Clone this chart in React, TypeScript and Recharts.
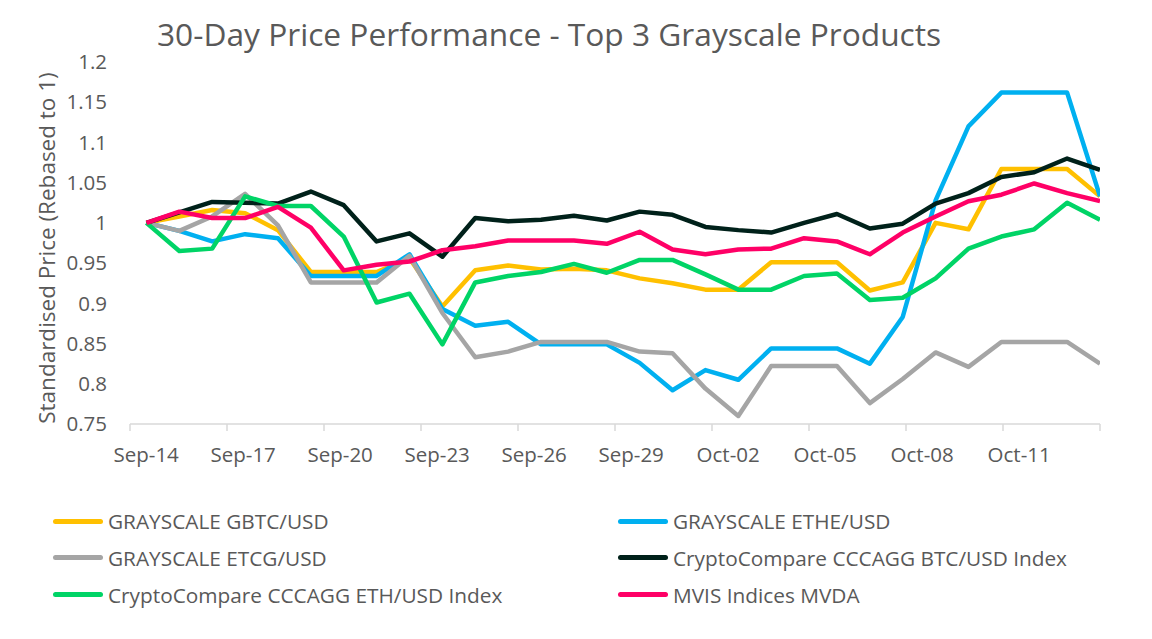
import React from "react";
import { LineChart, Line, XAxis, YAxis } from "recharts";

const dates = [
  "Sep-14", "Sep-15", "Sep-16", "Sep-17", "Sep-18", "Sep-19", "Sep-20", "Sep-21", "Sep-22", "Sep-23",
  "Sep-24", "Sep-25", "Sep-26", "Sep-27", "Sep-28", "Sep-29", "Sep-30", "Oct-01", "Oct-02", "Oct-03",
  "Oct-04", "Oct-05", "Oct-06", "Oct-07", "Oct-08", "Oct-09", "Oct-10", "Oct-11", "Oct-12", "Oct-13",
];

const tickLabels = ["Sep-14", "Sep-17", "Sep-20", "Sep-23", "Sep-26", "Sep-29", "Oct-02", "Oct-05", "Oct-08", "Oct-11"];

const yTicks = [0.75, 0.8, 0.85, 0.9, 0.95, 1, 1.05, 1.1, 1.15, 1.2];

const gbtc = [1.0, 1.008, 1.016, 1.012, 0.991, 0.939, 0.939, 0.939, 0.956, 0.896, 0.941, 0.947, 0.942, 0.943, 0.941, 0.931, 0.925, 0.917, 0.917, 0.951, 0.951, 0.951, 0.916, 0.926, 1.0, 0.992, 1.067, 1.067, 1.067, 1.033];
const ethe = [1.0, 0.99, 0.977, 0.986, 0.981, 0.934, 0.934, 0.934, 0.961, 0.893, 0.872, 0.877, 0.849, 0.849, 0.849, 0.826, 0.792, 0.817, 0.805, 0.844, 0.844, 0.844, 0.825, 0.883, 1.028, 1.12, 1.162, 1.162, 1.162, 1.033];
const etcg = [1.0, 0.99, 1.008, 1.036, 0.997, 0.926, 0.926, 0.926, 0.959, 0.888, 0.833, 0.84, 0.852, 0.852, 0.852, 0.84, 0.838, 0.794, 0.76, 0.822, 0.822, 0.822, 0.776, 0.806, 0.839, 0.821, 0.852, 0.852, 0.852, 0.825];
const btcIndex = [1.0, 1.013, 1.026, 1.025, 1.024, 1.039, 1.022, 0.977, 0.987, 0.958, 1.006, 1.002, 1.004, 1.009, 1.003, 1.014, 1.01, 0.995, 0.991, 0.988, 1.0, 1.011, 0.993, 0.999, 1.024, 1.037, 1.057, 1.063, 1.08, 1.066];
const ethIndex = [1.0, 0.965, 0.968, 1.033, 1.021, 1.021, 0.983, 0.901, 0.912, 0.849, 0.926, 0.934, 0.939, 0.949, 0.938, 0.954, 0.954, 0.936, 0.917, 0.917, 0.934, 0.937, 0.904, 0.907, 0.931, 0.968, 0.983, 0.992, 1.025, 1.004];
const mvda = [1.0, 1.014, 1.006, 1.006, 1.02, 0.994, 0.941, 0.948, 0.952, 0.966, 0.971, 0.978, 0.978, 0.978, 0.974, 0.989, 0.967, 0.961, 0.967, 0.968, 0.981, 0.977, 0.961, 0.988, 1.008, 1.027, 1.035, 1.049, 1.037, 1.027];

const seriesNames = [
  "GRAYSCALE GBTC/USD",
  "GRAYSCALE ETHE/USD",
  "GRAYSCALE ETCG/USD",
  "CryptoCompare CCCAGG BTC/USD Index",
  "CryptoCompare CCCAGG ETH/USD Index",
  "MVIS Indices MVDA",
];
const seriesKeys = ["gbtc", "ethe", "etcg", "btc", "eth", "mvda"];
const seriesColors = ["#FFC000", "#00B0F0", "#A5A5A5", "#00211A", "#00D466", "#FF0066"];

const data = dates.map((d, i) => ({
  idx: i,
  date: d,
  gbtc: gbtc[i],
  ethe: ethe[i],
  etcg: etcg[i],
  btc: btcIndex[i],
  eth: ethIndex[i],
  mvda: mvda[i],
}));

const boundaryTicks = [...tickLabels.map((_, k) => k * 3 - 0.5), dates.length - 0.5];

const W = 1152;
const H = 639;
const PLOT_LEFT = 130;
const PLOT_RIGHT = 1100;
const PLOT_TOP = 62;
const PLOT_BOTTOM = 424;
const Y_AXIS_W = 60;
const X_AXIS_H = 40;
const HALF_CAT = (PLOT_RIGHT - PLOT_LEFT) / dates.length / 2;
const FONT = "'Open Sans', 'Noto Sans', sans-serif";
const TEXT = "#595959";

const XTick = (props: any) => {
  const { x, y, index } = props;
  const label = tickLabels[index];
  if (!label) return null;
  return (
    <text x={x + HALF_CAT} y={y + 29} textAnchor="middle" fill={TEXT} fontSize={20.5} fontFamily={FONT}>
      {label}
    </text>
  );
};

function LegendBlock() {
  return (
    <div style={{ position: "absolute", left: 0, top: 509, width: W, height: 110 }}>
      {seriesNames.map((name, i) => {
        const col = i % 2;
        const row = Math.floor(i / 2);
        return (
          <div
            key={name}
            style={{
              position: "absolute",
              left: col === 0 ? 53 : 618,
              top: row * 36.8,
              height: 24,
              display: "flex",
              alignItems: "center",
              whiteSpace: "nowrap",
            }}
          >
            <span
              style={{
                display: "inline-block",
                width: 50,
                height: 5,
                borderRadius: 3,
                background: seriesColors[i],
                marginRight: 5,
              }}
            />
            <span style={{ fontFamily: FONT, fontSize: 20.8, color: TEXT }}>{name}</span>
          </div>
        );
      })}
    </div>
  );
}

export default function App() {
  return (
    <div style={{ position: "absolute", left: 0, top: 0, width: W, height: H, background: "#fff", overflow: "hidden" }}>
      <div
        style={{
          position: "absolute",
          left: 157,
          top: 12,
          fontFamily: FONT,
          fontSize: 31.7,
          color: TEXT,
          whiteSpace: "nowrap",
          lineHeight: "44px",
        }}
      >
        30-Day Price Performance - Top 3 Grayscale Products
      </div>
      <div
        style={{
          position: "absolute",
          left: 46,
          top: 248,
          transform: "translate(-50%, -50%) rotate(-90deg)",
          fontFamily: FONT,
          fontSize: 22.5,
          color: TEXT,
          whiteSpace: "nowrap",
        }}
      >
        Standardised Price (Rebased to 1)
      </div>
      <LineChart
        width={W}
        height={H}
        data={data}
        margin={{ top: PLOT_TOP, right: W - PLOT_RIGHT, bottom: H - PLOT_BOTTOM - X_AXIS_H, left: PLOT_LEFT - Y_AXIS_W }}
      >
        <XAxis
          xAxisId="labels"
          type="number"
          dataKey="idx"
          domain={[-0.5, dates.length - 0.5]}
          ticks={boundaryTicks}
          interval={0}
          tick={<XTick />}
          tickSize={7}
          tickLine={{ stroke: "#D9D9D9", strokeWidth: 1.5 }}
          axisLine={{ stroke: "#D9D9D9", strokeWidth: 1.5 }}
          height={X_AXIS_H}
          allowDataOverflow
        />
        <XAxis
          xAxisId="data"
          type="number"
          dataKey="idx"
          domain={[-0.5, dates.length - 1]}
          hide
          height={0}
          allowDataOverflow
        />
        <YAxis
          type="number"
          domain={[0.75, 1.2]}
          ticks={yTicks}
          interval={0}
          width={Y_AXIS_W}
          axisLine={false}
          tickLine={false}
          tickSize={0}
          tickMargin={23}
          tick={{ fill: TEXT, fontSize: 20.5, fontFamily: FONT }}
          tickFormatter={(v: number) => String(parseFloat(v.toFixed(2)))}
          allowDataOverflow
        />
        {seriesKeys.map((k, i) => (
          <Line
            key={k}
            xAxisId="data"
            type="linear"
            dataKey={k}
            name={seriesNames[i]}
            stroke={seriesColors[i]}
            strokeWidth={4.5}
            dot={false}
            activeDot={false}
            isAnimationActive={false}
            strokeLinejoin="round"
          />
        ))}
      </LineChart>
      <LegendBlock />
    </div>
  );
}
